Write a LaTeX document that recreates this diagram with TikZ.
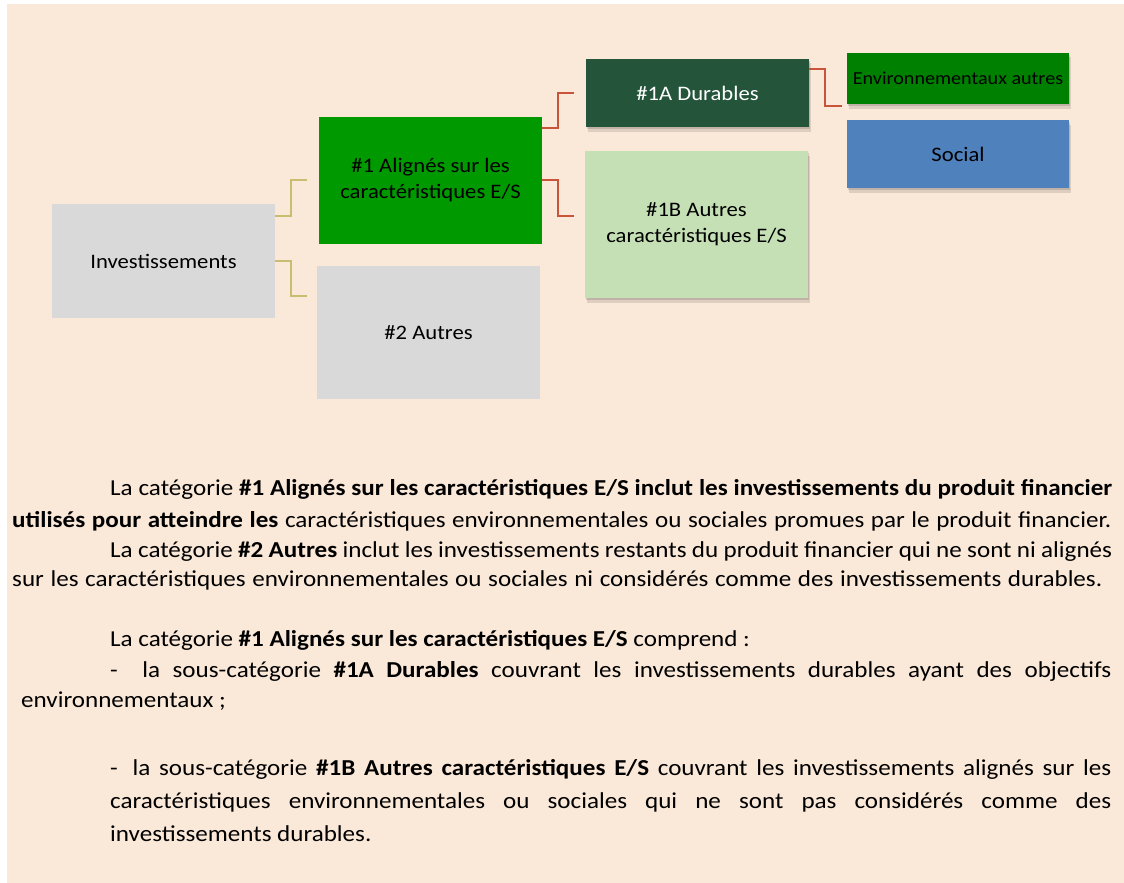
\documentclass[tikz,border=0pt]{standalone}
\usepackage{fontspec}
\setmainfont[FakeStretch=1.1]{Carlito}
\usetikzlibrary{calc}
\definecolor{peach}{HTML}{FAE8D8}
\definecolor{greyb}{HTML}{D9D9D9}
\definecolor{gone}{HTML}{009900}
\definecolor{darkg}{HTML}{24553A}
\definecolor{lightg}{HTML}{C5E0B4}
\definecolor{envg}{HTML}{008000}
\definecolor{socb}{HTML}{4F81BD}
\definecolor{redc}{HTML}{C8553A}
\definecolor{beigec}{HTML}{C9BD72}
\newcommand\myboxfont{\fontsize{20.6}{26}\selectfont}
\newcommand\myenvfont{\fontsize{18.3}{22}\selectfont}
\newcommand\mybodyfont{\fontsize{22.8}{30}\selectfont}
\tikzset{
  box/.style={rectangle, inner sep=0pt, align=center, font=\myboxfont, text=black},
  shad/.style={
    preaction={fill=black, opacity=.13, transform canvas={shift={(1pt,-2pt)}}},
    preaction={fill=black, opacity=.11, transform canvas={shift={(1.5pt,-4.5pt)}}}},
  bconn/.style={draw=beigec, line width=2pt},
  rconn/.style={draw=redc, line width=2pt},
  txt/.style={anchor=base west, inner sep=0pt, font=\mybodyfont, text=black}
}
\begin{document}
\begin{tikzpicture}[x=1pt,y=-1pt]
\useasboundingbox (0,0) rectangle (1124,883);
\fill[white] (0,0) rectangle (1124,883);
\fill[peach] (7,4) rectangle (1124,883);

% boxes
\node[box, fill=greyb, minimum width=223pt, minimum height=114pt] (inv) at (163.5,261) {Investissements};
\node[box, fill=gone, minimum width=223pt, minimum height=127pt] (a1) at (430.5,180.5) {\#1 Alignés sur les\\caractéristiques E/S};
\node[box, fill=greyb, minimum width=223pt, minimum height=133pt] (a2) at (428.5,332.5) {\#2 Autres};
\node[box, shad, fill=darkg, text=white, minimum width=223pt, minimum height=68pt] (d1a) at (697.5,93) {\#1A Durables};
\node[box, shad, fill=lightg, minimum width=223pt, minimum height=147pt] (d1b) at (696.5,224.5) {\#1B Autres\\caractéristiques E/S};
\node[box, shad, fill=envg, font=\myenvfont, minimum width=222pt, minimum height=51pt] (env) at (958,78.5) {Environnementaux autres};
\node[box, shad, fill=socb, minimum width=222pt, minimum height=68pt] (soc) at (958,154) {Social};

% connector ends
\coordinate (ina1) at (307,180);
\coordinate (ina2) at (307,296);
\coordinate (ind1a) at (574,93);
\coordinate (ind1b) at (574,216);
\coordinate (inenv) at (842,106);

\draw[bconn] (inv.east |- 0,216) -| (291,180) -- (ina1);
\draw[bconn] (inv.east |- 0,260.5) -| (291,296) -- (ina2);
\draw[rconn] (a1.east |- 0,128) -| (558,93) -- (ind1a);
\draw[rconn] (a1.east |- 0,180) -| (558,216) -- (ind1b);
\draw[rconn] (d1a.east |- 0,69.5) -| (825,106) -- (inenv);

% text
\node[txt] (t1) at (110,495) {\makebox[1002pt][s]{La catégorie \textbf{\#1 Alignés sur les caractéristiques E/S inclut les investissements du produit financier}}};
\node[txt] (t2) at (12,527.5) {\makebox[1099pt][s]{\textbf{utilisés pour atteindre les} caractéristiques environnementales ou sociales promues par le produit financier.}};
\node[txt] (t3) at (110,557) {\makebox[1002pt][s]{La catégorie \textbf{\#2 Autres} inclut les investissements restants du produit financier qui ne sont ni alignés}};
\node[txt] (t4) at (12,586.5) {\makebox[1090pt][s]{sur les caractéristiques environnementales ou sociales ni considérés comme des investissements durables.}};

\node[txt] (u1) at (110,646) {La catégorie \textbf{\#1 Alignés sur les caractéristiques E/S} comprend :};
\node[txt] (u2) at (110,677) {\makebox[1001pt][s]{-\hspace{12pt} la sous-catégorie \textbf{\#1A Durables} couvrant les investissements durables ayant des objectifs}};
\node[txt] (u3) at (21,707.5) {environnementaux ;};
\node[txt] (u4) at (110,775) {\makebox[1001pt][s]{-\hspace{6pt} la sous-catégorie \textbf{\#1B Autres caractéristiques E/S} couvrant les investissements alignés sur les}};
\node[txt] (u5) at (110,808) {\makebox[1001pt][s]{caractéristiques environnementales ou sociales qui ne sont pas considérés comme des}};
\node[txt] (u6) at (110,841) {investissements durables.};
\end{tikzpicture}
\end{document}
